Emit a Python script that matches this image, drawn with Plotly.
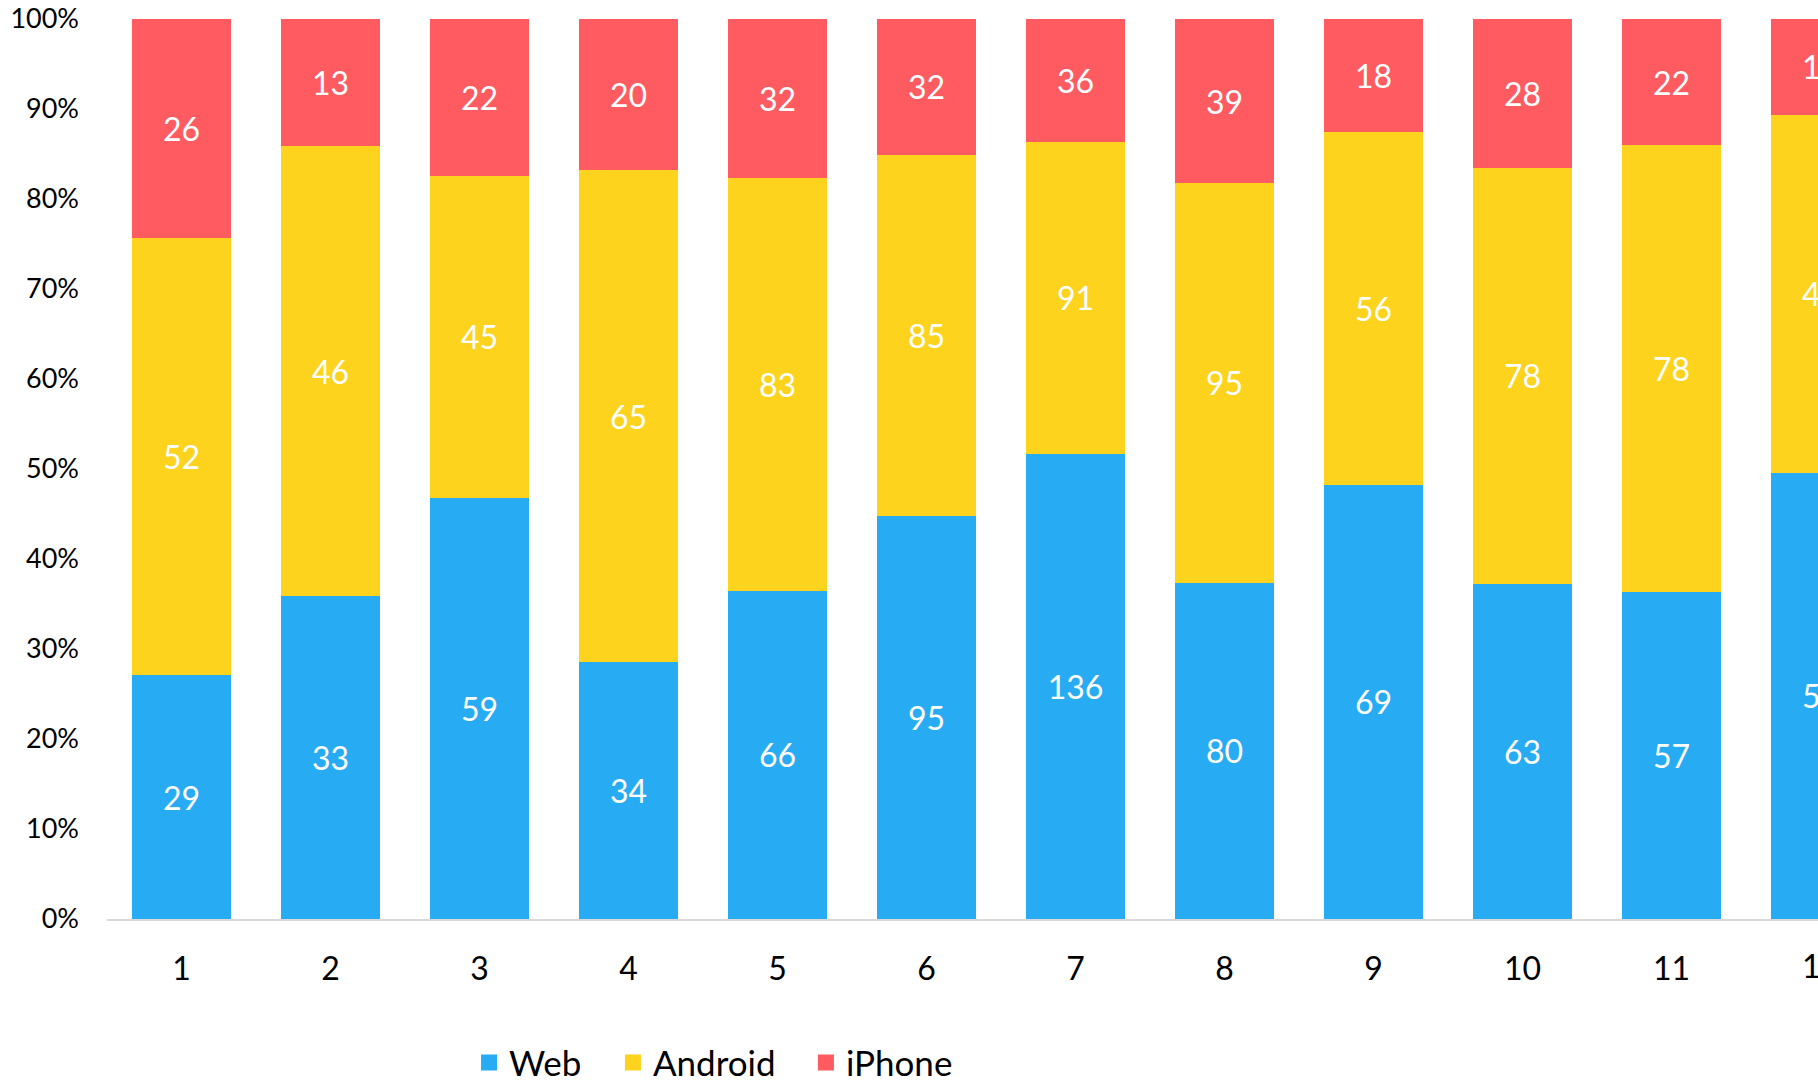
import plotly.graph_objects as go

categories = [1, 2, 3, 4, 5, 6, 7, 8, 9, 10, 11, 12]
web = [29, 33, 59, 34, 66, 95, 136, 80, 69, 63, 57, 56]
android = [52, 46, 45, 65, 83, 85, 91, 95, 56, 78, 78, 45]
iphone = [26, 13, 22, 20, 32, 32, 36, 39, 18, 28, 22, 12]
y_ticks = [0, 10, 20, 30, 40, 50, 60, 70, 80, 90, 100]

series = [("Web", web, "#27ACF3"), ("Android", android, "#FDD31E"), ("iPhone", iphone, "#FF5B61")]
legend_x = [0.2116, 0.2957, 0.4085]

# figure taller than the window so the legend never pushes the margins
W, H = 1818, 1120
ML, MR, MT = 107, 0, 19
PLOT_H = 900
MB = H - MT - PLOT_H
x_lo = 0.5
pitch_px = 149.0
x_hi = x_lo + (W - ML - MR) / pitch_px

fig = go.Figure()
legend_names = ["legend", "legend2", "legend3"]
for (name, vals, color), lg in zip(series, legend_names):
    fig.add_trace(go.Bar(
        x=categories, y=vals, name=name, marker=dict(color=color, line=dict(width=0)),
        text=[str(v) for v in vals], textposition="inside", insidetextanchor="middle",
        textangle=0, textfont=dict(color="white", size=32, family="Lato"),
        showlegend=False, cliponaxis=True,
    ))
    fig.add_trace(go.Scatter(
        x=[None], y=[None], mode="markers", name=name, legend=lg,
        marker=dict(symbol="square", size=16, color=color), showlegend=True,
    ))

# tick label of the partially visible last category (outside axis range)
last = categories[-1]
fig.add_annotation(
    x=(last - x_lo) / (x_hi - x_lo), xref="paper", y=0, yref="paper",
    yshift=-25, text=str(last), showarrow=False, xanchor="center", yanchor="top",
    font=dict(size=32, family="Lato", color="#000000"),
)

legend_style = dict(
    orientation="h", xanchor="left", y=-0.127, yanchor="top",
    font=dict(size=35, family="Lato", color="#000000"), bgcolor="rgba(0,0,0,0)",
    itemwidth=30, tracegroupgap=0,
)

fig.update_layout(
    width=W, height=H, barmode="stack", barnorm="percent", bargap=0.335,
    plot_bgcolor="white", paper_bgcolor="white",
    margin=dict(l=ML, r=MR, t=MT, b=MB, pad=0),
    font=dict(family="Lato", color="#000000"),
    xaxis=dict(
        range=[x_lo, x_hi], tickvals=categories, ticktext=[str(c) for c in categories],
        showgrid=False, zeroline=False, showline=True, linecolor="#D9D9D9", linewidth=2,
        ticks="", tickfont=dict(size=32, family="Lato", color="#000000"), ticklabelstandoff=21,
    ),
    yaxis=dict(
        range=[0, 100], tickvals=y_ticks, ticktext=[f"{t}%" for t in y_ticks],
        showgrid=False, zeroline=False, showline=False, ticks="",
        tickfont=dict(size=27, family="Lato", color="#000000"), ticklabelstandoff=27,
    ),
    legend=dict(x=legend_x[0], **legend_style),
    legend2=dict(x=legend_x[1], **legend_style),
    legend3=dict(x=legend_x[2], **legend_style),
    showlegend=True,
)

fig.write_html(
    "out.html",
    config={"displayModeBar": False},
    post_script="document.body.style.margin='0px';document.body.style.overflow='hidden';",
)
